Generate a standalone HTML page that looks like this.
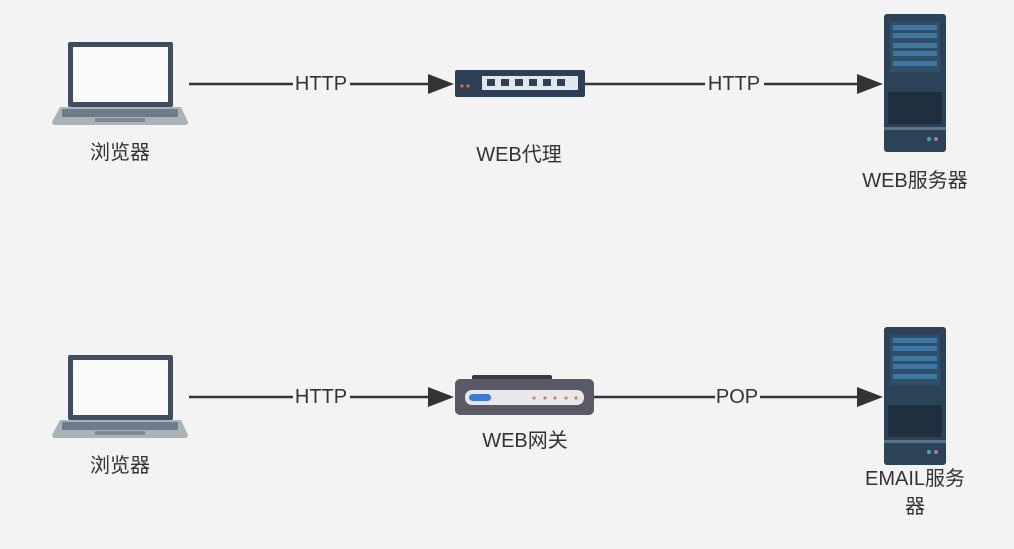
<!DOCTYPE html>
<html><head><meta charset="utf-8"><style>
body{margin:0;width:1014px;height:549px;background:#f3f3f3;overflow:hidden;font-family:"Liberation Sans","Noto Sans CJK SC",sans-serif;color:#333}
.t{position:absolute;font-size:20px;white-space:nowrap;transform:translateX(-50%);line-height:1;}
</style></head><body>
<svg width="1014" height="549" style="position:absolute;left:0;top:0">
<defs>
<g id="laptop">
<rect x="68" y="42" width="105" height="65" rx="2" fill="#3e4e5f"/>
<rect x="73" y="47" width="95" height="55" fill="#fafafa"/>
<path d="M60 107 H181 L188 122 Q188 125 185 125 H55 Q52 125 52 122 Z" fill="#a9b1b9"/>
<rect x="62" y="109" width="116" height="8" fill="#6e7b88"/>
<rect x="95" y="118" width="50" height="4" fill="#7d8893"/>
</g>
<g id="server">
<rect x="884" y="0" width="62" height="138" rx="3" fill="#2c4256"/>
<rect x="890" y="8" width="50" height="50" fill="#30506a"/>
<rect x="893" y="11" width="44" height="5" fill="#3f77a3"/>
<rect x="893" y="19" width="44" height="5" fill="#3f77a3"/>
<rect x="893" y="29" width="44" height="5" fill="#3f77a3"/>
<rect x="893" y="37" width="44" height="5" fill="#3f77a3"/>
<rect x="893" y="47" width="44" height="5" fill="#3f77a3"/>
<rect x="888" y="78" width="54" height="32" fill="#1f2f3e"/>
<rect x="884" y="113" width="62" height="3" fill="#5a7388"/>
<circle cx="929" cy="125" r="2" fill="#3fb27f"/><circle cx="936" cy="125" r="2" fill="#c36aa6"/>
</g>
</defs>
<use href="#laptop"/>
<use href="#laptop" y="313"/>
<use href="#server" y="14"/>
<use href="#server" y="327"/>
<g stroke="#333" stroke-width="2.5" fill="none">
<line x1="189" y1="84" x2="293" y2="84"/><line x1="350" y1="84" x2="430" y2="84"/>
<line x1="585" y1="84" x2="705" y2="84"/><line x1="764" y1="84" x2="860" y2="84"/>
<line x1="189" y1="397" x2="293" y2="397"/><line x1="350" y1="397" x2="430" y2="397"/>
<line x1="594" y1="397" x2="715" y2="397"/><line x1="760" y1="397" x2="860" y2="397"/>
</g>
<g fill="#333">
<path d="M428 74 L454 84 L428 94Z"/><path d="M857 74 L883 84 L857 94Z"/>
<path d="M428 387 L454 397 L428 407Z"/><path d="M857 387 L883 397 L857 407Z"/>
</g>
<rect x="455" y="70" width="130" height="27" rx="2" fill="#2d3e55"/>
<rect x="482" y="76" width="96" height="14" fill="#dfe6ee"/>
<g fill="#2d3e55"><rect x="487" y="79" width="8" height="7"/><rect x="501" y="79" width="8" height="7"/><rect x="515" y="79" width="8" height="7"/><rect x="529" y="79" width="8" height="7"/><rect x="543" y="79" width="8" height="7"/><rect x="557" y="79" width="8" height="7"/></g>
<circle cx="462" cy="86" r="1.6" fill="#d0743c"/><circle cx="468" cy="86" r="1.6" fill="#d0743c"/>
<rect x="472" y="375" width="80" height="6" rx="2" fill="#3a3a44"/>
<rect x="455" y="379" width="139" height="36" rx="5" fill="#5a5a66"/>
<rect x="465" y="390" width="119" height="15" rx="7" fill="#e8e8ec"/>
<rect x="469" y="394" width="22" height="7" rx="3.5" fill="#3a7bd5"/>
<g fill="#d9824a"><circle cx="534" cy="398" r="1.6"/><circle cx="545" cy="398" r="1.6"/><circle cx="555" cy="398" r="1.6"/><circle cx="566" cy="398" r="1.6"/><circle cx="576" cy="398" r="1.6"/></g>
</svg>
<div class="t" style="left:321px;top:74px">HTTP</div>
<div class="t" style="left:734px;top:74px">HTTP</div>
<div class="t" style="left:321px;top:387px">HTTP</div>
<div class="t" style="left:737px;top:387px">POP</div>
<div class="t" style="left:120px;top:143px">浏览器</div>
<div class="t" style="left:519px;top:145px">WEB代理</div>
<div class="t" style="left:915px;top:171px">WEB服务器</div>
<div class="t" style="left:120px;top:456px">浏览器</div>
<div class="t" style="left:525px;top:431px">WEB网关</div>
<div class="t" style="left:915px;top:469px">EMAIL服务</div>
<div class="t" style="left:915px;top:497px">器</div>
</body></html>
